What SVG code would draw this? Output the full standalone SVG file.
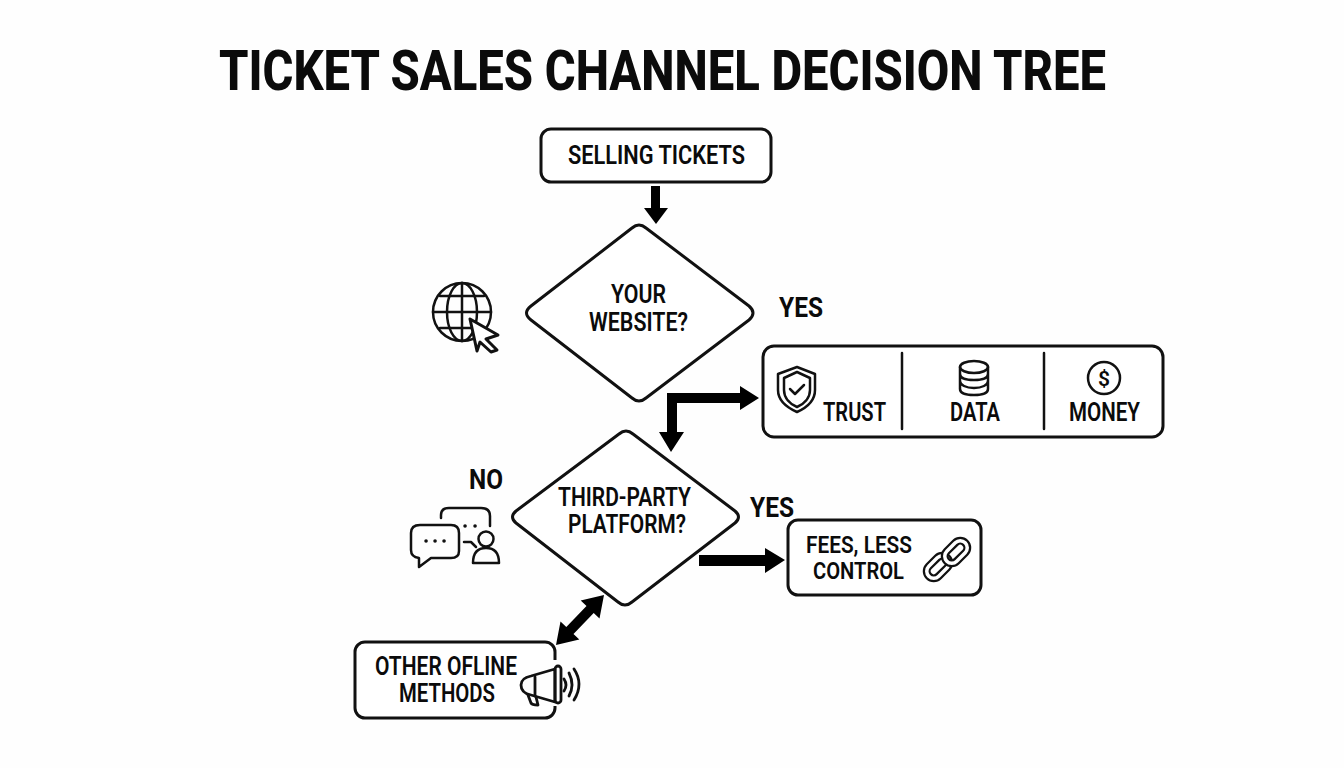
<svg xmlns="http://www.w3.org/2000/svg" width="1344" height="768" viewBox="0 0 1344 768">
<style>
.t{font-family:Roboto,"Liberation Sans",sans-serif;font-weight:600;fill:#0b0b0b;font-size:25px}
.s{font-size:24px}
.y{font-size:28px;font-weight:700}
.b{fill:#fff;stroke:#111;stroke-width:3;stroke-linejoin:round}
.i{fill:none;stroke:#111;stroke-width:2.5;stroke-linecap:round;stroke-linejoin:round}
.a{fill:#000}
</style>
<rect width="1344" height="768" fill="#fefefe"/>
<text id="title" class="t" x="219" y="90" style="font-size:56px;font-weight:800" textLength="887" lengthAdjust="spacingAndGlyphs">TICKET SALES CHANNEL DECISION TREE</text>
<g id="connectors">
<path class="a" d="M651 186H660V208H668L656 224L644 208H651Z"/>
<path class="a" d="M667 393H740V386L759 398L740 410V403H677V432H684L671 452L659 432H667Z"/>
<path class="a" d="M699 555H765V548L785 560L765 573V566H699Z"/>
<path class="a" d="M604 595L599.5 618.4L593.7 612.9L573.5 634.1L579.3 639.6L556 645L560.5 621.6L566.3 627.1L586.5 605.9L580.7 600.4Z"/>
</g>
<g id="n-selling"><rect class="b" x="541" y="129" width="230" height="53" rx="10"/><text class="t" x="568" y="164" textLength="177" lengthAdjust="spacingAndGlyphs">SELLING TICKETS</text></g>
<g id="n-website">
<path class="b" d="M632 228Q639 222 646 228L749 306Q757 313 749 320L646 398Q639 404 632 398L531 320Q522 313 531 306Z"/>
<text class="t" x="611" y="303" textLength="55" lengthAdjust="spacingAndGlyphs">YOUR</text>
<text class="t" x="589" y="331" textLength="99" lengthAdjust="spacingAndGlyphs">WEBSITE?</text>
</g>
<g id="icon-web" class="i">
<circle cx="462" cy="312" r="29"/><path d="M462 283V341M433 312H491M440 296H484M440 328H484"/>
<ellipse cx="462" cy="312" rx="15" ry="29"/>
<path d="M470 319L498 335L486 339L497 350L491 352L480 342L477 351Z" fill="#fff" stroke-width="3"/>
</g>
<text class="t y" x="779" y="317" textLength="44" lengthAdjust="spacingAndGlyphs">YES</text>
<g id="n-benefits">
<rect class="b" x="763" y="346" width="400" height="91" rx="11"/>
<path class="i" d="M902 353V429M1044 353V429" stroke-width="3"/>
<g class="i"><path d="M797 367L815 374V390C815 401 806 408 797 412C788 408 778 401 778 390V374Z"/><path d="M797 372L810 378V390C810 398 804 404 797 407C790 404 784 398 784 390V378Z"/><path d="M790 389L795 394L804 385"/></g>
<text class="t" x="823" y="421" textLength="63" lengthAdjust="spacingAndGlyphs">TRUST</text>
<g class="i"><ellipse cx="974" cy="367" rx="14" ry="6"/><path d="M960 367V389C960 393 966 395 974 395C982 395 988 393 988 389V367M960 374C960 378 966 380 974 380C982 380 988 378 988 374M960 381C960 385 966 388 974 388C982 388 988 385 988 381"/></g>
<text class="t" x="950" y="421" textLength="50" lengthAdjust="spacingAndGlyphs">DATA</text>
<circle class="i" cx="1104" cy="378" r="16"/>
<text class="t" x="1098" y="386" style="font-size:21px;font-weight:600">$</text>
<text class="t" x="1069" y="421" textLength="71" lengthAdjust="spacingAndGlyphs">MONEY</text>
</g>
<g id="n-third">
<path class="b" d="M619 434Q626 428 633 434L735 511Q742 517 735 523L632 602Q625 608 618 602L516 523Q509 517 516 511Z"/>
<text class="t" x="558" y="506" textLength="133" lengthAdjust="spacingAndGlyphs">THIRD-PARTY</text>
<text class="t" x="568" y="533" textLength="118" lengthAdjust="spacingAndGlyphs">PLATFORM?</text>
</g>
<text class="t y" x="469" y="489" textLength="34" lengthAdjust="spacingAndGlyphs">NO</text>
<text class="t y" x="750" y="517" textLength="44" lengthAdjust="spacingAndGlyphs">YES</text>
<g id="icon-chat" class="i">
<path d="M441 518V515Q441 508 449 508H481Q490 508 490 516V526"/>
<path d="M420 525H451Q459 525 459 533V551Q459 558 451 558H431L419 567V558Q411 557 411 550V533Q411 525 420 525Z"/>
<path d="M464 542H471L476 547"/>
<circle cx="486" cy="539" r="7.5"/>
<path d="M473 563Q473 548 486 548Q499 548 499 563Z"/>
<path d="M426 541h.1M435 541h.1M444 541h.1M465 526h.1M475 526h.1" stroke-width="3.5"/>
</g>
<g id="n-fees">
<rect class="b" x="788" y="520" width="193" height="75" rx="10"/>
<text class="t s" x="806" y="553" textLength="106" lengthAdjust="spacingAndGlyphs">FEES, LESS</text>
<text class="t s" x="813" y="579" textLength="91" lengthAdjust="spacingAndGlyphs">CONTROL</text>
<g fill="none" stroke-linejoin="round">
<g transform="translate(938 567) rotate(-45)"><rect x="-13" y="-7" width="26" height="14" rx="7" stroke="#111" stroke-width="8"/><rect x="-13" y="-7" width="26" height="14" rx="7" stroke="#fff" stroke-width="3.5"/></g>
<g transform="translate(956 552) rotate(-45)"><rect x="-13" y="-7" width="26" height="14" rx="7" stroke="#111" stroke-width="8"/><rect x="-13" y="-7" width="26" height="14" rx="7" stroke="#fff" stroke-width="3.5"/></g>
</g>
</g>
<g id="n-other">
<rect class="b" x="355" y="642" width="200" height="76" rx="10"/>
<rect x="520" y="660" width="40" height="46" fill="#fefefe"/>
<text class="t" x="375" y="675" textLength="142" lengthAdjust="spacingAndGlyphs">OTHER OFLINE</text>
<text class="t" x="399" y="702" textLength="96" lengthAdjust="spacingAndGlyphs">METHODS</text>
<g class="i" style="stroke-width:2.8"><path d="M555 669L531 676Q521 678 521 685Q521 693 531 695L555 702Z"/><rect x="555" y="666" width="6" height="37" rx="3"/><path d="M528 695L531 703Q532 705 538 705L536 697M535 677V696"/><path d="M564 679Q568 685 564 691M569 673Q575 685 569 696M574 669Q584 684 574 700"/></g>
</g>
</svg>
